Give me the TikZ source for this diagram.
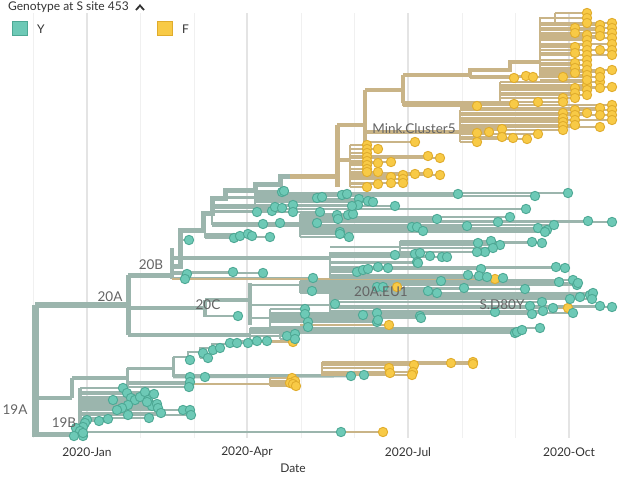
\documentclass[tikz,border=0pt]{standalone}
\usepackage{fontspec}
\setmainfont{Lato}
\definecolor{ybranch}{HTML}{9BB5AD}
\definecolor{fbranch}{HTML}{C9B487}
\definecolor{ytipfill}{HTML}{6DC9B6}
\definecolor{ytipline}{HTML}{4DA894}
\definecolor{ftipfill}{HTML}{F8CA46}
\definecolor{ftipline}{HTML}{E0AC2C}
\definecolor{gridgrey}{HTML}{F0F0F0}
\definecolor{gridquarter}{HTML}{E4E4E4}
\definecolor{labelgrey}{HTML}{646464}
\definecolor{textgrey}{HTML}{333333}
\pgfdeclarelayer{grid}
\pgfdeclarelayer{branches}
\pgfsetlayers{grid,branches,main}
\tikzset{
  ybr/.style={draw=ybranch, line width=2.8pt, line cap=square},
  fbr/.style={draw=fbranch, line width=2.8pt, line cap=square},
  ytip/.style={fill=ytipfill, draw=ytipline, line width=0.9pt},
  ftip/.style={fill=ftipfill, draw=ftipline, line width=0.9pt},
  gridline/.style={draw=gridgrey, line width=1pt},
  cladelabel/.style={font=\fontsize{13.5}{14}\selectfont, text=labelgrey, inner sep=0pt},
  ticklabel/.style={font=\fontsize{12}{13}\selectfont, text=textgrey, inner sep=0pt}
}
% parent x, vertical span, list of tips tx/ty
\newcommand{\yclade}[4]{%
  \begin{pgfonlayer}{branches}
    \draw[ybr] (#1,#2) -- (#1,#3);
    \foreach \tx/\ty in {#4} \draw[ybr] (#1,\ty) -- (\tx,\ty);
  \end{pgfonlayer}
  \foreach \tx/\ty in {#4} \path[ytip] (\tx,\ty) circle[radius=4.7pt];}
\newcommand{\fclade}[4]{%
  \begin{pgfonlayer}{branches}
    \draw[fbr] (#1,#2) -- (#1,#3);
    \foreach \tx/\ty in {#4} \draw[fbr] (#1,\ty) -- (\tx,\ty);
  \end{pgfonlayer}
  \foreach \tx/\ty in {#4} \path[ftip] (\tx,\ty) circle[radius=4.7pt];}
\begin{document}
\begin{tikzpicture}[x=1pt, y=-1pt]
  \useasboundingbox (0,0) rectangle (636,481);
  % grid and axis
  \begin{pgfonlayer}{grid}
    \foreach \gx in {33,140,194,301,354,462,515}
      \draw[gridline] (\gx,13) -- (\gx,438);
    \foreach \gx in {87,247,408,569}
      \draw[gridline, line width=2pt, draw=gridquarter] (\gx,13) -- (\gx,438);
  \end{pgfonlayer}
  \foreach \gx/\m in {87/2020-Jan, 247/2020-Apr, 408/2020-Jul, 569/2020-Oct}
    \node[ticklabel] (tick\gx) at (\gx,452) {\m};
  \node[ticklabel] (datelabel) at (293,468) {Date};
  % legend
  \node[font=\fontsize{12}{13}\selectfont, text=textgrey, anchor=west, inner sep=0pt] (legtitle) at (8,7) {Genotype at S site 453};
  \draw[textgrey, line width=1.8pt] (136,10) -- (140,5.5) -- (144,10);
  \path[fill=ytipfill, draw=ytipline, line width=1.4pt] (12.5,21.5) rectangle (27.5,35.5);
  \node[ticklabel, anchor=west] (legY) at (37,29) {Y};
  \path[fill=ftipfill, draw=ftipline, line width=1.4pt] (157.5,21.5) rectangle (172.5,35.5);
  \node[ticklabel, anchor=west] (legF) at (182,29) {F};

  % skeleton: 19A, 20A, 20B, 20C
  \coordinate (n19A) at (35,305);
  \coordinate (n20A) at (128,305);
  \coordinate (n20B) at (172,275);
  \coordinate (n20C) at (205,308);
  \begin{pgfonlayer}{branches}
    \draw[ybr, line width=7pt] (n19A) -- (35,437);
    \draw[ybr, line width=6pt] (n19A) -- (n20A);
    \draw[ybr, line width=5pt] (35,434) -- (80,434);
    \draw[ybr, line width=4pt] (35,398) -- (72,398);
    \draw[ybr, line width=3.5pt] (72,378) -- (72,398);
    \draw[ybr, line width=3.5pt] (72,378) -- (127,378);
    \draw[ybr, line width=3pt] (127,368) -- (127,386);
    \draw[ybr, line width=3pt] (127,368) -- (173,368);
    \draw[ybr, line width=3pt] (173,357) -- (173,377);
    \draw[ybr] (188,360) -- (188,357) -- (173,357);
    \draw[ybr] (188,357) |- (200,352) |- (212,348) |- (228,344) |- (250,341) |- (280,336);
    \draw[ybr] (173,377) -- (351,376);
    \draw[ybr] (127,384) -- (190,384);
    \draw[fbr] (190,384) -- (270,384);
    \draw[ybr, line width=3.5pt] (80,388) -- (80,437);
    \draw[ybr] (80,432) -- (341,432);
    \draw[fbr] (341,432) -- (383,432);
    % 20A
    \draw[ybr, line width=5pt] (128,275) -- (128,335);
    \draw[ybr, line width=5pt] (128,275) -- (n20B);
    \draw[ybr, line width=3.5pt] (128,308) -- (n20C);
    \draw[ybr, line width=3.5pt] (128,335) -- (250,335);
    \draw[ybr, line width=3.5pt] (205,300) -- (205,317);
    \draw[ybr, line width=3.5pt] (205,300) -- (250,300);
    \draw[ybr, line width=3.5pt] (250,283) -- (250,325);
    \draw[ybr] (250,285) -- (300,285);
    \draw[ybr] (250,305) -- (330,305);
    \draw[ybr] (250,318) -- (270,318);
    \draw[fbr] (250,341) -- (293,341);
    % 20B
    \draw[ybr, line width=4.5pt] (172,248) -- (172,279);
    \draw[fbr] (172,279) -- (495,279);
    \draw[ybr, line width=3.5pt] (172,258) -- (330,258);
    \draw[ybr] (330,247) -- (400,247);
    \draw[ybr, line width=5pt] (172,266) -- (180,266) |- (203,230) |- (212,213) |- (225,198) |- (255,190) |- (280,184) |- (290,176);
    \draw[ybr, line width=3.5pt] (212,225) -- (300,225);
    % Mink cluster
    \draw[fbr, line width=5pt] (290,176) -- (337,176);
    \draw[fbr, line width=5pt] (337,125) -- (337,187);
    \draw[fbr, line width=4.5pt] (337,125) -- (365,125);
    \draw[fbr, line width=4.5pt] (365,90) -- (365,142);
    \draw[fbr, line width=4.5pt] (365,90) -- (403,90);
    \draw[fbr, line width=4pt] (403,75) -- (403,103);
    \draw[fbr, line width=4pt] (337,160) -- (350,160);
    \draw[fbr, line width=3.5pt] (365,132) -- (460,132);
    \draw[fbr, line width=3.5pt] (403,103) -- (500,103);
    \draw[fbr, line width=3.5pt] (403,75) -- (470,75) |- (510,70) |- (540,62);
    \draw[fbr] (540,28) |- (555,18);
  \end{pgfonlayer}

  % 19A / 19B tips
  \yclade{200}{352}{358}{203/353,208/358}
  \yclade{212}{348}{350}{213/350,220/348}
  \yclade{228}{343}{344}{230/343,237/343,248/343}
  \yclade{250}{341}{341}{257/341,267/341}
  \fclade{250}{341}{341}{293/342}
  \yclade{280}{334}{339}{287/336,295/334,295/339}
  \path[ytip] (190,360) circle[radius=4.7pt];
  \yclade{173}{377}{377}{190/377,205/377,351/376,364/375}
  \fclade{322}{362}{376}{389/368,390/373,414/365,413/372,412/375,451/363,473/362,473/364}
  \yclade{127}{382}{387}{190/382,189/387}
  \fclade{270}{378}{386}{292/378,295/381,290/383,293/384,296/386}
  \yclade{80}{388}{421}{123/388,127/393,131/398,135/400,128/405,140/397,145/392,148/400,152/406,154/394,157/404,158/408,161/413,147/402,122/408,117/410,113/400,183/410,190/410,191/415,149/418,128/415,108/419,99/421}
  \yclade{80}{420}{436}{87/420,85/423,83/427,76/428,80/431,74/436,83/436,83/433}
  \fclade{341}{432}{432}{383/432}
  \path[ytip] (341,432) circle[radius=4.7pt];

  % 20A lower and 20C tips
  \yclade{250}{328}{342}{515/333,517/332,522/330,540/328}
  \yclade{205}{316}{316}{238/316}
  \fclade{300}{287}{287}{397/287}
  \yclade{300}{281}{293}{312/291,377/287,383/287,441/281,428/291,437/293,464/288,525/289,559/282,573/280,577/285,578/283}
  \fclade{420}{308}{308}{568/308}
  \yclade{330}{293}{315}{335/304,530/306,542/302,553/308,573/313,543/311,532/314,495/312,570/299,580/297,590/295,593/293,592/299,600/306,612/307}
  \fclade{300}{325}{325}{389/325}
  \yclade{270}{309}{327}{305/309,305/314,308/322,308/327,363/315,377/313,377/322,378/320,420/316,421/318}

  % 20B tips
  \yclade{172}{272}{279}{187/274,185/279,233/272,263/273,313/278}
  \fclade{172}{279}{279}{495/279}
  \yclade{330}{252}{278}{395/255,415/254,420/253,430/256,442/257,447/257,417/262,418/263,357/272,363/270,368/269,378/267,388/268,556/267,565/268,481/269,468/275,479/276,487/277,503/278}
  \yclade{400}{241}{252}{478/243,491/241,500/245,532/242,542/243,485/252,477/252,493/248}
  \yclade{180}{240}{240}{189/240}
  \yclade{205}{230}{238}{234/238,240/236,248/234,252/236,270/237}
  \yclade{212}{205}{225}{257/212,263/224,280/223,272/211,275/207,282/208,293/205,293/212,317/223,320/212}
  \yclade{300}{214}{237}{337/215,338/219,348/215,353/214,340/232,340/234,349/237,437/219,412/227,417/227,423/231,467/226,538/228,547/230,554/225,545/232,498/222,510/217,588/221,612/222}
  \yclade{225}{191}{198}{282/192,284/191,317/198,322/197}
  \yclade{255}{193}{209}{342/195,347/194,359/199,368/201,373/202,358/205,352/206,395/206,458/194,535/196,568/193,526/209}

  % Mink cluster tips
  \fclade{350}{145}{187}{367/145,367/149,367/153,367/157,367/161,367/165,367/169,367/172,378/149,378/163,378/172,391/162,391/177,391/183,403/175,403/179,403/183,415/174,428/156,428/173,440/158,440/175,378/184,367/187}
  \fclade{365}{142}{142}{415/142}
  \fclade{460}{110}{142}{477/133,477/142,489/132,502/129,502/137,513/138,527/139,538/134,563/113,563/118,563/122,563/126,563/130,575/110,575/115,575/120,575/125,587/113,600/108,600/115,600/127,612/105,612/110,612/115,612/120}
  \fclade{403}{103}{106}{477/106}
  \fclade{500}{82}{104}{514/104,538/102,563/98,563/102,575/88,575/93,575/98,587/85,587/90,587/95,600/82,600/88,612/87}
  \fclade{470}{75}{78}{514/78,526/76,533/77,563/77}
  \fclade{540}{23}{77}{575/28,575/33,575/47,575/53,575/63,575/68,575/73,587/35,587/40,587/45,587/50,587/55,587/60,587/65,587/70,587/75,587/80,600/25,600/30,600/36,600/50,600/72,600/77,612/23,612/28,612/33,612/38,612/44,612/50,612/55,612/70}
  \fclade{555}{13}{23}{587/13,587/18,587/23}

  % clade labels
  \node[cladelabel] (lab19A) at (15,410) {19A};
  \node[cladelabel] (lab19B) at (64,423) {19B};
  \node[cladelabel] (lab20A) at (110,297) {20A};
  \node[cladelabel] (lab20B) at (151,265) {20B};
  \node[cladelabel] (lab20C) at (208,305) {20C};
  \node[cladelabel] (labEU1) at (381,292) {20A.EU1};
  \node[cladelabel] (labD80Y) at (502,305) {S.D80Y};
  \node[cladelabel] (labmink) at (414,129) {Mink.Cluster5};
\end{tikzpicture}
\end{document}
